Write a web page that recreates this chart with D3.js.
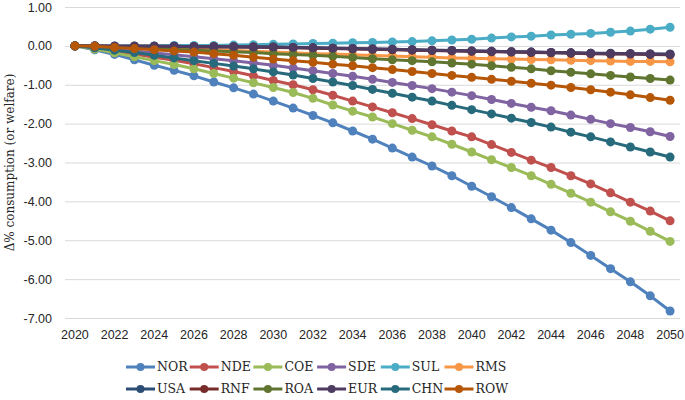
<!DOCTYPE html>
<html>
<head>
<meta charset="utf-8">
<script src="https://cdn.jsdelivr.net/npm/d3@7"></script>
<style>
	body { margin: 0; background: #fff; }
	svg { font-family: "DejaVu Serif", serif; }
	.tick text { fill: #262626; }
	.grid line { stroke: #d9d9d9; }
</style>
</head>
<body>
<main></main>
<script>
// years on the category axis
const years = d3.range(2020, 2051);
const yTicks = [1, 0, -1, -2, -3, -4, -5, -6, -7];

const regions = ["NOR", "NDE", "COE", "SDE", "SUL", "RMS", "USA", "RNF", "ROA", "EUR", "CHN", "ROW"];
const colors = ["#4F81BD", "#C0504D", "#9BBB59", "#8064A2", "#4BACC6", "#F79646",
	"#2C4D75", "#772C2A", "#5F7530", "#4D3B62", "#276A7C", "#B65708"];

// % change in consumption, 2020..2050
const NOR = [0, -0.1, -0.22, -0.36, -0.5, -0.63, -0.77, -0.93, -1.08, -1.24, -1.42, -1.6, -1.79, -1.98, -2.19, -2.4, -2.63, -2.86, -3.09, -3.34, -3.61, -3.88, -4.16, -4.45, -4.74, -5.06, -5.39, -5.73, -6.07, -6.43, -6.82];
const NDE = [0, -0.06, -0.13, -0.21, -0.29, -0.37, -0.46, -0.56, -0.66, -0.77, -0.89, -1.0, -1.13, -1.27, -1.42, -1.57, -1.72, -1.87, -2.03, -2.19, -2.34, -2.54, -2.74, -2.94, -3.13, -3.34, -3.55, -3.78, -4.02, -4.25, -4.5];
const COE = [0, -0.08, -0.18, -0.28, -0.38, -0.48, -0.59, -0.71, -0.83, -0.95, -1.07, -1.2, -1.35, -1.52, -1.68, -1.83, -2.0, -2.17, -2.34, -2.53, -2.73, -2.93, -3.13, -3.34, -3.56, -3.79, -4.02, -4.27, -4.51, -4.77, -5.03];
const SDE = [0, -0.04, -0.08, -0.13, -0.18, -0.23, -0.28, -0.33, -0.38, -0.44, -0.5, -0.57, -0.64, -0.71, -0.78, -0.86, -0.94, -1.02, -1.1, -1.19, -1.28, -1.38, -1.48, -1.58, -1.67, -1.78, -1.89, -2.0, -2.1, -2.21, -2.33];
const SUL = [0, 0, 0, 0, 0, 0.01, 0.01, 0.01, 0.02, 0.03, 0.04, 0.05, 0.06, 0.07, 0.08, 0.09, 0.1, 0.11, 0.13, 0.15, 0.17, 0.2, 0.23, 0.25, 0.28, 0.3, 0.32, 0.35, 0.38, 0.43, 0.48];
const RMS = [0, -0.01, -0.02, -0.04, -0.05, -0.07, -0.08, -0.1, -0.12, -0.14, -0.16, -0.18, -0.2, -0.21, -0.23, -0.25, -0.26, -0.28, -0.29, -0.31, -0.32, -0.33, -0.34, -0.35, -0.36, -0.37, -0.38, -0.39, -0.4, -0.4, -0.41];
const USA = [0, 0, -0.01, -0.01, -0.01, -0.01, -0.02, -0.02, -0.02, -0.03, -0.03, -0.04, -0.05, -0.06, -0.07, -0.08, -0.09, -0.1, -0.11, -0.12, -0.13, -0.14, -0.15, -0.16, -0.17, -0.18, -0.19, -0.19, -0.2, -0.21, -0.21];
const RNF = [0, 0, -0.01, -0.01, -0.01, -0.02, -0.02, -0.02, -0.03, -0.03, -0.04, -0.05, -0.06, -0.07, -0.08, -0.09, -0.1, -0.11, -0.12, -0.13, -0.14, -0.15, -0.16, -0.17, -0.18, -0.19, -0.2, -0.21, -0.21, -0.22, -0.23];
const ROA = [0, -0.01, -0.03, -0.05, -0.07, -0.09, -0.11, -0.13, -0.15, -0.17, -0.2, -0.22, -0.24, -0.27, -0.3, -0.33, -0.36, -0.38, -0.41, -0.44, -0.47, -0.51, -0.55, -0.59, -0.64, -0.68, -0.72, -0.76, -0.8, -0.84, -0.88];
const EUR = [0, 0, -0.01, -0.01, -0.01, -0.01, -0.02, -0.02, -0.02, -0.03, -0.03, -0.04, -0.05, -0.06, -0.07, -0.08, -0.09, -0.1, -0.11, -0.12, -0.13, -0.14, -0.15, -0.16, -0.17, -0.18, -0.19, -0.2, -0.2, -0.21, -0.22];
const CHN = [0, -0.05, -0.11, -0.17, -0.24, -0.31, -0.38, -0.45, -0.52, -0.59, -0.67, -0.75, -0.84, -0.93, -1.02, -1.12, -1.22, -1.32, -1.42, -1.53, -1.64, -1.75, -1.86, -1.97, -2.09, -2.22, -2.34, -2.47, -2.6, -2.73, -2.86];
const ROW = [0, -0.01, -0.04, -0.07, -0.1, -0.13, -0.16, -0.2, -0.24, -0.29, -0.34, -0.38, -0.42, -0.47, -0.51, -0.56, -0.61, -0.66, -0.71, -0.76, -0.81, -0.86, -0.91, -0.96, -1.01, -1.07, -1.13, -1.19, -1.26, -1.33, -1.4];

const seriesValues = [NOR, NDE, COE, SDE, SUL, RMS, USA, RNF, ROA, EUR, CHN, ROW];

/*------------Size---------------*/
const W = 685, H = 400;
const plot = { l: 65, r: 680, t: 7, b: 318 };

const svg = d3.select("main").append("svg")
	.attr("width", W)
	.attr("height", H);

const x = d3.scaleBand().domain(years).range([plot.l, plot.r]);
const y = d3.scaleLinear().domain([-7, 1]).range([plot.b, plot.t]);
const cx = (yr) => x(yr) + x.bandwidth() / 2;
const fmt = (d) => d3.format(".2f")(d).replace("−", "-");

/*------------Axes---------------*/
const yAxis = svg.append("g")
	.attr("class", "grid")
	.attr("transform", `translate(${plot.l},0)`)
	.call(d3.axisLeft(y).tickValues(yTicks).tickFormat(fmt)
		.tickSize(-(plot.r - plot.l)).tickPadding(13));
yAxis.select(".domain").remove();
yAxis.selectAll("text").style("font-size", "12.5px");

const xAxis = svg.append("g")
	.attr("transform", `translate(0,${plot.b})`)
	.call(d3.axisBottom(x).tickValues(years.filter((d) => d % 2 === 0))
		.tickSize(0).tickPadding(12));
xAxis.select(".domain").remove();
xAxis.selectAll("text").style("font-size", "12.5px");

svg.append("text")
	.attr("transform", `translate(10,${(plot.t + plot.b) / 2}) rotate(-90)`)
	.attr("text-anchor", "middle")
	.attr("dy", "0.35em")
	.style("font-size", "12px")
	.attr("fill", "#262626")
	.text("Δ% consumption (or welfare)");

/*------------Lines---------------*/
const line = d3.line().x((d, i) => cx(years[i])).y((d) => y(d));

regions.forEach((name, k) => {
	const g = svg.append("g");
	g.append("path")
		.datum(seriesValues[k])
		.attr("fill", "none")
		.attr("stroke", colors[k])
		.attr("stroke-width", 3)
		.attr("stroke-linejoin", "round")
		.attr("d", line);
	g.selectAll("circle")
		.data(seriesValues[k])
		.enter()
		.append("circle")
		.attr("cx", (d, i) => cx(years[i]))
		.attr("cy", (d) => y(d))
		.attr("r", 4.5)
		.attr("fill", colors[k]);
});

/*------------Legend---------------*/
const lg = { x: 126, y: [367, 389], step: 63.7 };
const legend = svg.append("g");
regions.forEach((name, k) => {
	const col = k % 6, row = Math.floor(k / 6);
	const g = legend.append("g")
		.attr("transform", `translate(${lg.x + col * lg.step},${lg.y[row]})`);
	g.append("line")
		.attr("x1", 0).attr("x2", 29)
		.attr("stroke", colors[k])
		.attr("stroke-width", 3);
	g.append("circle")
		.attr("cx", 14.5)
		.attr("r", 4)
		.attr("fill", colors[k]);
	g.append("text")
		.attr("x", 31)
		.attr("dy", "0.35em")
		.style("font-size", "12.5px")
		.attr("fill", "#262626")
		.text(name);
});
</script>
</body>
</html>
